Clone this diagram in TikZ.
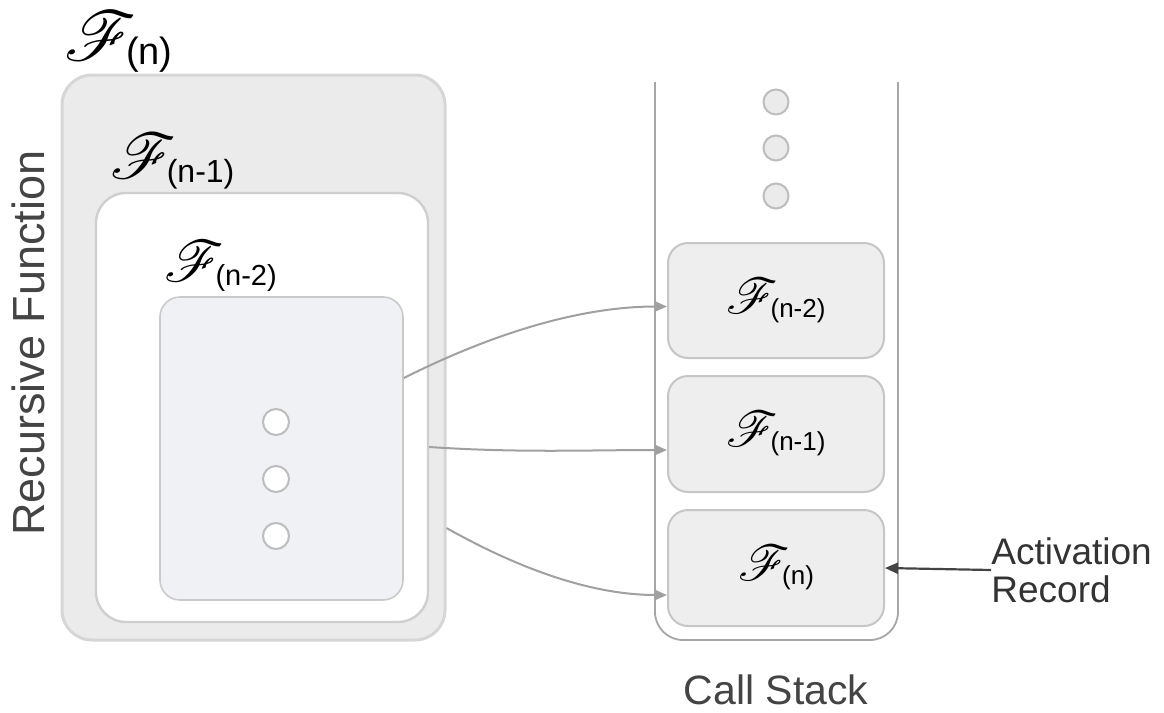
\documentclass[tikz,border=0pt]{standalone}
\usepackage{fontspec}
\setmainfont{Liberation Sans}
\setsansfont{Liberation Sans}
\usepackage{mathrsfs}
\usepackage{graphicx}
\usetikzlibrary{arrows.meta,calc,fit}
\definecolor{outerfill}{HTML}{EBEBEB}
\definecolor{outerline}{HTML}{D6D6D6}
\definecolor{midline}{HTML}{CFCFCF}
\definecolor{innerfill}{HTML}{EFF1F4}
\definecolor{innerline}{HTML}{CACACA}
\definecolor{stackfill}{HTML}{EEEEEE}
\definecolor{stackbox}{HTML}{C6C6C6}
\definecolor{stackline}{HTML}{A6A6A6}
\definecolor{conncol}{HTML}{A0A0A0}
\definecolor{txtcol}{HTML}{444444}
\definecolor{dotline}{HTML}{BDBDBD}
\newdimen\fkern \fkern=1.5pt
\newcommand\FLab[3]{\scalebox{#1}{$\mathscr{F}$}\kern-#1\fkern\raisebox{-0.2em}{\fontsize{#2}{#2}\selectfont\sffamily #3}}
\tikzset{
  outerbox/.style={draw=outerline, fill=outerfill, line width=1.5pt, rounded corners=15pt, inner sep=0pt},
  midbox/.style={draw=midline, fill=white, line width=1.2pt, rounded corners=15pt, inner sep=0pt},
  innerbox/.style={draw=innerline, fill=innerfill, line width=0.8pt, rounded corners=10pt, inner sep=0pt},
  framebox/.style={draw=stackbox, fill=stackfill, line width=1pt, rounded corners=10pt, inner sep=0pt},
  dot/.style={circle, draw=dotline, fill=white, line width=1pt, minimum size=13pt, inner sep=0pt},
  sdot/.style={circle, draw=dotline, fill=outerfill, line width=1pt, minimum size=12.5pt, inner sep=0pt},
  conn/.style={draw=conncol, line width=1pt, -{Triangle[length=6pt,width=5pt]}},
  actconn/.style={draw=txtcol, line width=1.1pt, -{Triangle[length=6.5pt,width=5.5pt]}},
  stackwall/.style={draw=stackline, line width=0.9pt, rounded corners=14pt},
  lab/.style={inner sep=0pt, text=black},
  sans/.style={inner sep=0pt, text=txtcol, font=\sffamily},
}
\begin{document}
\begin{tikzpicture}[x=0.5pt,y=-0.5pt]
\useasboundingbox (0,0) rectangle (1164,713);
% recursive function boxes
\node[outerbox, fit={(62,75) (445,640)}] (outer) {};
\node[midbox, fit={(96,193) (428,622)}] (mid) {};
\node[innerbox, fit={(160,297) (403,600)}] (inner) {};
\node[lab, anchor=base west] (lFn) at (64,60) {\FLab{3.5}{19}{(n)}};
\node[lab, anchor=base west] (lFn1) at (110,178) {\FLab{3.2}{16}{(n-1)}};
\node[lab, anchor=base west] (lFn2) at (164,281) {\FLab{2.9}{14.5}{(n-2)}};
\node[dot] (d1) at (276,422) {};
\node[dot] (d2) at (276,479) {};
\node[dot] (d3) at (276,536) {};
\node[sans, rotate=90, font=\sffamily\fontsize{22.5}{26}\selectfont] (rf) at (28,343) {Recursive Function};
% call stack
\draw[stackwall] (655,82) -- (655,640) -- (898,640) -- (898,82);
\node[sdot] (s1) at (776,102) {};
\node[sdot] (s2) at (776,148) {};
\node[sdot] (s3) at (776,196) {};
\node[framebox, fit={(668,243) (884,358)}] (f1) {};
\node[framebox, fit={(668,376) (884,492)}] (f2) {};
\node[framebox, fit={(668,510) (884,626)}] (f3) {};
\node[lab] (t1) at (f1.center) {\FLab{2.5}{13}{(n-2)}};
\node[lab] (t2) at (f2.center) {\FLab{2.5}{13}{(n-1)}};
\node[lab] (t3) at (f3.center) {\FLab{2.5}{13}{(n)}};
\node[sans, font=\sffamily\fontsize{20.5}{24}\selectfont] (cs) at (776,690) {Call Stack};
\node[sans, anchor=west, align=left, text=black!80, font=\sffamily\fontsize{18.5}{19}\selectfont] (ar) at (991,570) {Activation\\Record};
% connectors
\draw[conn] ($(inner.east)+(0,-70.5)$) .. controls +(110,-55) and +(-70,0) .. ($(f1.west)+(0,6)$);
\draw[conn] ($(mid.east)+(0,39.5)$) .. controls +(90,6) and +(-80,0) .. ($(f2.west)+(0,16)$);
\draw[conn] ($(outer.east)+(0,170.5)$) .. controls +(80,45) and +(-70,0) .. ($(f3.west)+(0,27)$);
\draw[actconn] (ar.west) -- (f3.east);
\end{tikzpicture}
\end{document}
